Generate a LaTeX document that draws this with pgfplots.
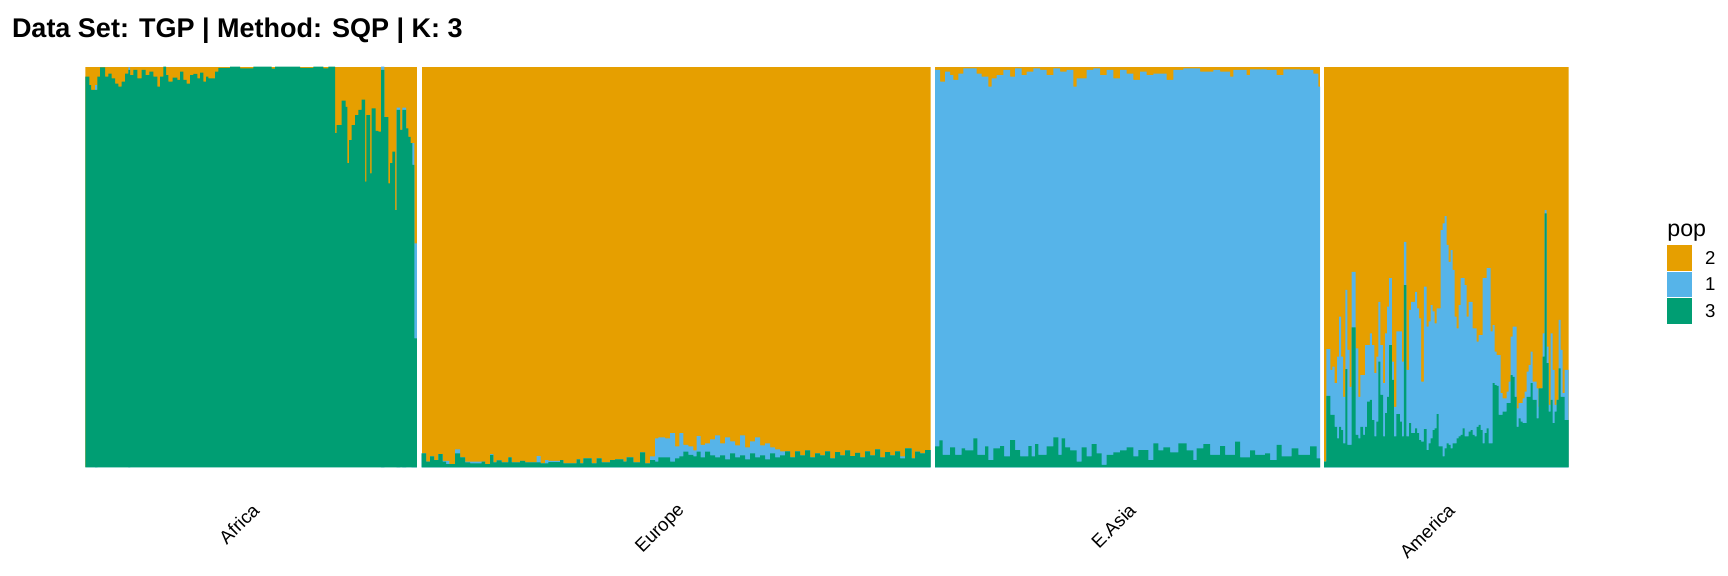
\documentclass[border=0pt]{standalone}
\usepackage{fontspec}
\setmainfont{Liberation Sans}
\usepackage{pgfplots}
\pgfplotsset{compat=1.18}
\definecolor{cA}{HTML}{E69F00}
\definecolor{cB}{HTML}{56B4E9}
\definecolor{cC}{HTML}{009E73}
\pgfplotsset{panel/.style={scale only axis, hide axis, anchor=south west,
  ymin=0, ymax=1, enlargelimits=false, clip=true, height=200.3pt},
  lay/.style={ybar interval, fill=#1, draw=none}}
\begin{document}
\begin{tikzpicture}
\useasboundingbox (0,0) rectangle (864pt,-288pt);
% ---------------- Africa
\begin{axis}[panel, at={(42.67pt,-233.65pt)}, width=165.7pt, xmin=16, xmax=1010]
\addplot[lay=cA] coordinates {(16,1) (1010,1)};
\addplot[lay=cB] coordinates {(16,0) (45,0.954) (52,0) (145,0.998) (150,0) (903,1.0) (913,0) (950,0.898) (960,0) (967,0.898) (978,0) (995,0.809) (1003,0.559) (1010,0)};
\addplot[lay=cC] coordinates {(16,0.975) (28,0.954) (33,0.942) (52,0.975) (60,0.998) (75,0.975) (85,0.983) (95,0.971) (105,0.958) (115,0.950) (125,0.963) (135,0.983) (145,0.992) (150,0.979) (160,0.992) (172,0.971) (185,0.992) (197,0.979) (208,0.988) (220,0.975) (232,0.950) (240,0.975) (250,1.000) (258,0.979) (265,0.963) (278,0.973) (292,0.967) (300,0.988) (310,0.967) (320,0.958) (330,0.979) (340,0.982) (352,0.971) (360,0.985) (370,0.963) (378,0.975) (385,0.971) (405,0.988) (415,0.997) (450,1.000) (480,0.996) (520,1.000) (575,0.995) (585,1.000) (660,0.997) (700,1.000) (730,0.996) (745,1.000) (765,0.834) (770,0.854) (785,0.915) (797,0.900) (802,0.759) (807,0.817) (815,0.854) (825,0.879) (835,0.892) (845,0.918) (855,0.713) (859,0.879) (870,0.734) (875,0.896) (887,0.840) (895,0.838) (903,0.992) (913,0.874) (925,0.709) (930,0.759) (937,0.788) (945,0.642) (950,0.892) (960,0.842) (967,0.892) (978,0.846) (985,0.825) (992,0.809) (997,0.755) (1003,0.322) (1010,0)};
\end{axis}
% ---------------- Europe
\begin{axis}[panel, at={(210.85pt,-233.65pt)}, width=254.5pt, xmin=421.7, xmax=930.7]
\addplot[lay=cA] coordinates {(421.7,1) (930.7,1)};
\addplot[lay=cB] coordinates {(421.7,0.035) (426,0.014) (430,0.027) (434,0.018) (438.3,0.033) (442.7,0.016) (446,0.016) (449.3,0.008) (455,0.045) (460,0.025) (465,0.014) (470,0.014) (481.7,0.014) (485,0.008) (490,0.033) (493.3,0.012) (496.7,0.017) (501.7,0.012) (508.3,0.025) (511.7,0.012) (520,0.016) (525,0.012) (536.7,0.028) (540.7,0.010) (545,0.018) (548.3,0.016) (560,0.018) (563.3,0.010) (576.7,0.020) (580,0.010) (583.3,0.022) (591.7,0.010) (596.7,0.022) (601.7,0.012) (610,0.018) (615,0.020) (623.3,0.014) (626.7,0.025) (633.3,0.012) (640,0.037) (645,0.010) (650,0.027) (655,0.072) (658.3,0.075) (665,0.072) (670,0.085) (675,0.052) (679.3,0.085) (683.3,0.056) (688.3,0.052) (693.3,0.042) (696.7,0.078) (700.7,0.056) (705,0.060) (710,0.070) (715,0.080) (720,0.060) (725,0.075) (730,0.065) (735,0.055) (740,0.080) (745,0.050) (750,0.065) (755,0.075) (760,0.055) (765,0.060) (770,0.050) (775,0.045) (780,0.040) (785,0.040) (790,0.025) (795,0.040) (800,0.030) (805,0.042) (810,0.025) (815,0.035) (820,0.030) (825,0.040) (830,0.022) (835,0.038) (840,0.030) (845,0.042) (850,0.028) (855,0.036) (860,0.025) (865,0.040) (870,0.030) (875,0.045) (880,0.025) (885,0.038) (890,0.030) (895,0.040) (900,0.027) (905,0.047) (911.7,0.022) (915,0.039) (920,0.035) (925,0.043) (930.7,0)};
\addplot[lay=cC] coordinates {(421.7,0.035) (426,0.014) (430,0.027) (434,0.018) (438.3,0.033) (442.7,0.014) (446,0.008) (455,0.035) (460,0.025) (465,0.012) (470,0.010) (481.7,0.014) (485,0.008) (490,0.031) (493.3,0.012) (496.7,0.017) (501.7,0.012) (508.3,0.025) (511.7,0.012) (520,0.016) (525,0.012) (540.7,0.010) (548.3,0.013) (560,0.018) (563.3,0.010) (576.7,0.020) (580,0.010) (583.3,0.022) (591.7,0.010) (596.7,0.022) (601.7,0.012) (610,0.018) (615,0.020) (623.3,0.014) (626.7,0.025) (633.3,0.012) (640,0.037) (645,0.010) (650,0.018) (655,0.014) (658.3,0.025) (670,0.014) (675,0.022) (679.3,0.027) (683.3,0.039) (688.3,0.031) (693.3,0.027) (696.7,0.039) (700.7,0.025) (705,0.039) (710,0.030) (715,0.025) (720,0.030) (725,0.020) (730,0.035) (735,0.025) (740,0.030) (745,0.020) (750,0.035) (755,0.025) (760,0.030) (765,0.020) (770,0.035) (775,0.025) (780,0.030) (785,0.040) (790,0.025) (795,0.040) (800,0.030) (805,0.042) (810,0.025) (815,0.035) (820,0.030) (825,0.040) (830,0.022) (835,0.038) (840,0.030) (845,0.042) (850,0.028) (855,0.036) (860,0.025) (865,0.040) (870,0.030) (875,0.045) (880,0.025) (885,0.038) (890,0.030) (895,0.040) (900,0.022) (905,0.047) (911.7,0.022) (915,0.039) (920,0.035) (925,0.043) (930.7,0)};
\end{axis}
% ---------------- E.Asia
\begin{axis}[panel, at={(467.5pt,-233.65pt)}, width=192.5pt, xmin=105, xmax=1260]
\addplot[lay=cA] coordinates {(105,1) (1260,1)};
\addplot[lay=cB] coordinates {(105,0.992) (120,0.963) (135,0.988) (150,0.979) (160,0.967) (175,0.983) (190,0.996) (230,0.983) (245,0.975) (265,0.950) (275,0.971) (290,0.979) (310,0.992) (330,0.975) (345,0.996) (365,0.979) (380,0.988) (400,0.996) (420,0.992) (440,0.979) (460,0.996) (480,0.988) (500,0.992) (520,0.950) (530,0.971) (560,0.992) (580,0.996) (600,0.979) (620,0.992) (640,0.971) (660,0.992) (680,0.983) (700,0.967) (720,0.988) (740,0.979) (760,0.983) (800,0.967) (820,0.992) (850,0.996) (900,0.988) (940,0.992) (960,0.988) (990,0.975) (1000,0.992) (1040,0.979) (1050,0.993) (1100,0.992) (1130,0.979) (1150,0.993) (1200,0.992) (1240,0.983) (1255,0.950) (1260,0)};
\addplot[lay=cC] coordinates {(105,0.052) (118,0.067) (128,0.031) (150,0.050) (165,0.031) (185,0.047) (195,0.042) (220,0.072) (232,0.031) (255,0.052) (265,0.018) (280,0.047) (300,0.053) (312,0.027) (330,0.068) (345,0.043) (360,0.027) (385,0.053) (395,0.027) (405,0.058) (415,0.031) (440,0.052) (460,0.075) (475,0.031) (485,0.072) (495,0.050) (510,0.042) (530,0.014) (545,0.050) (560,0.027) (575,0.058) (590,0.035) (605,0.006) (620,0.031) (640,0.037) (660,0.042) (680,0.050) (700,0.027) (715,0.043) (745,0.018) (760,0.060) (775,0.042) (790,0.050) (810,0.037) (835,0.060) (860,0.042) (880,0.018) (890,0.047) (910,0.058) (930,0.031) (960,0.053) (975,0.031) (1005,0.064) (1020,0.025) (1050,0.042) (1065,0.031) (1095,0.035) (1110,0.018) (1130,0.056) (1145,0.027) (1175,0.047) (1195,0.031) (1230,0.052) (1250,0.022) (1260,0)};
\end{axis}
% ---------------- America
\begin{axis}[panel, at={(662pt,-233.65pt)}, width=122.35pt, xmin=73, xmax=806]
\addplot[lay=cA] coordinates {(73,1) (806,1)};
\addplot[lay=cB] coordinates {(73,0.014) (80,0.295) (92,0.243) (98,0.251) (105,0.210) (112,0.276) (118,0.376) (124,0.276) (130,0.176) (137,0.443) (143,0.293) (150,0.201) (156,0.488) (168,0.297) (176,0.176) (182,0.230) (190,0.230) (196,0.305) (210,0.334) (216,0.305) (224,0.235) (230,0.276) (236,0.413) (242,0.305) (250,0.210) (256,0.334) (262,0.401) (268,0.472) (276,0.264) (282,0.151) (290,0.339) (306,0.264) (312,0.563) (320,0.243) (328,0.393) (334,0.413) (346,0.438) (352,0.397) (358,0.372) (364,0.214) (372,0.451) (380,0.351) (386,0.364) (392,0.405) (398,0.389) (404,0.359) (410,0.397) (422,0.592) (428,0.609) (434,0.627) (440,0.555) (446,0.513) (452,0.542) (458,0.493) (464,0.376) (470,0.347) (476,0.405) (482,0.472) (494,0.455) (500,0.376) (506,0.413) (518,0.347) (530,0.314) (536,0.330) (548,0.472) (560,0.497) (572,0.339) (578,0.355) (584,0.289) (590,0.280) (602,0.185) (608,0.172) (620,0.189) (626,0.214) (632,0.326) (638,0.351) (650,0.147) (656,0.160) (668,0.172) (674,0.189) (680,0.239) (686,0.255) (692,0.289) (698,0.214) (710,0.197) (716,0.151) (722,0.197) (728,0.334) (734,0.642) (740,0.301) (746,0.156) (752,0.334) (758,0.243) (764,0.156) (770,0.168) (776,0.368) (782,0.293) (788,0.185) (794,0.243) (806,0)};
\addplot[lay=cC] coordinates {(73,0.014) (80,0.178) (92,0.131) (105,0.101) (112,0.072) (118,0.101) (124,0.093) (130,0.060) (137,0.245) (143,0.056) (156,0.349) (168,0.081) (176,0.072) (182,0.101) (190,0.081) (196,0.101) (202,0.164) (210,0.168) (216,0.118) (224,0.077) (230,0.114) (236,0.264) (242,0.181) (250,0.077) (256,0.135) (262,0.176) (268,0.305) (276,0.218) (282,0.077) (290,0.133) (300,0.114) (306,0.077) (312,0.455) (320,0.077) (328,0.110) (334,0.085) (346,0.097) (352,0.085) (358,0.068) (364,0.064) (372,0.095) (380,0.043) (386,0.060) (392,0.072) (398,0.093) (404,0.097) (410,0.133) (416,0.052) (428,0.027) (434,0.047) (440,0.060) (446,0.056) (452,0.047) (458,0.060) (470,0.072) (476,0.077) (482,0.081) (488,0.097) (494,0.077) (506,0.089) (512,0.093) (518,0.081) (524,0.077) (530,0.101) (536,0.106) (542,0.093) (548,0.060) (554,0.085) (560,0.097) (566,0.060) (578,0.210) (584,0.205) (590,0.203) (596,0.131) (608,0.139) (620,0.160) (632,0.230) (638,0.226) (644,0.176) (650,0.101) (656,0.122) (662,0.114) (668,0.110) (680,0.176) (692,0.210) (698,0.168) (710,0.122) (716,0.197) (728,0.276) (734,0.634) (740,0.260) (746,0.139) (752,0.168) (758,0.110) (764,0.139) (770,0.168) (776,0.247) (782,0.176) (788,0.176) (794,0.118) (806,0)};
\end{axis}
% ---------------- texts
\node[anchor=base west, inner sep=0, font=\bfseries\fontsize{13.5}{16}\selectfont] at (5.8pt,-18.6pt) {Data Set: TGP | Method: SQP | K: 3};
\begin{scope}[every node/.style={rotate=45, anchor=north east, inner sep=0, font=\fontsize{9.3}{11}\selectfont}]
\node at (125.5pt,-250.8pt) {Africa};
\node at (338pt,-250.8pt) {Europe};
\node at (563.75pt,-250.8pt) {E.Asia};
\node at (723.2pt,-250.8pt) {America};
\end{scope}
\node[anchor=base west, inner sep=0, font=\fontsize{11.6}{14}\selectfont] at (833.5pt,-118.3pt) {pop};
\fill[cA] (833.25pt,-122.65pt) rectangle (846.15pt,-135.5pt);
\fill[cB] (833.25pt,-135.85pt) rectangle (846.15pt,-148.65pt);
\fill[cC] (833.25pt,-149.15pt) rectangle (846.15pt,-161.85pt);
\begin{scope}[every node/.style={anchor=west, inner sep=0, font=\fontsize{9.3}{11}\selectfont}]
\node at (852.3pt,-129.1pt) {2};
\node at (852.3pt,-142.25pt) {1};
\node at (852.3pt,-155.5pt) {3};
\end{scope}
\end{tikzpicture}
\end{document}
